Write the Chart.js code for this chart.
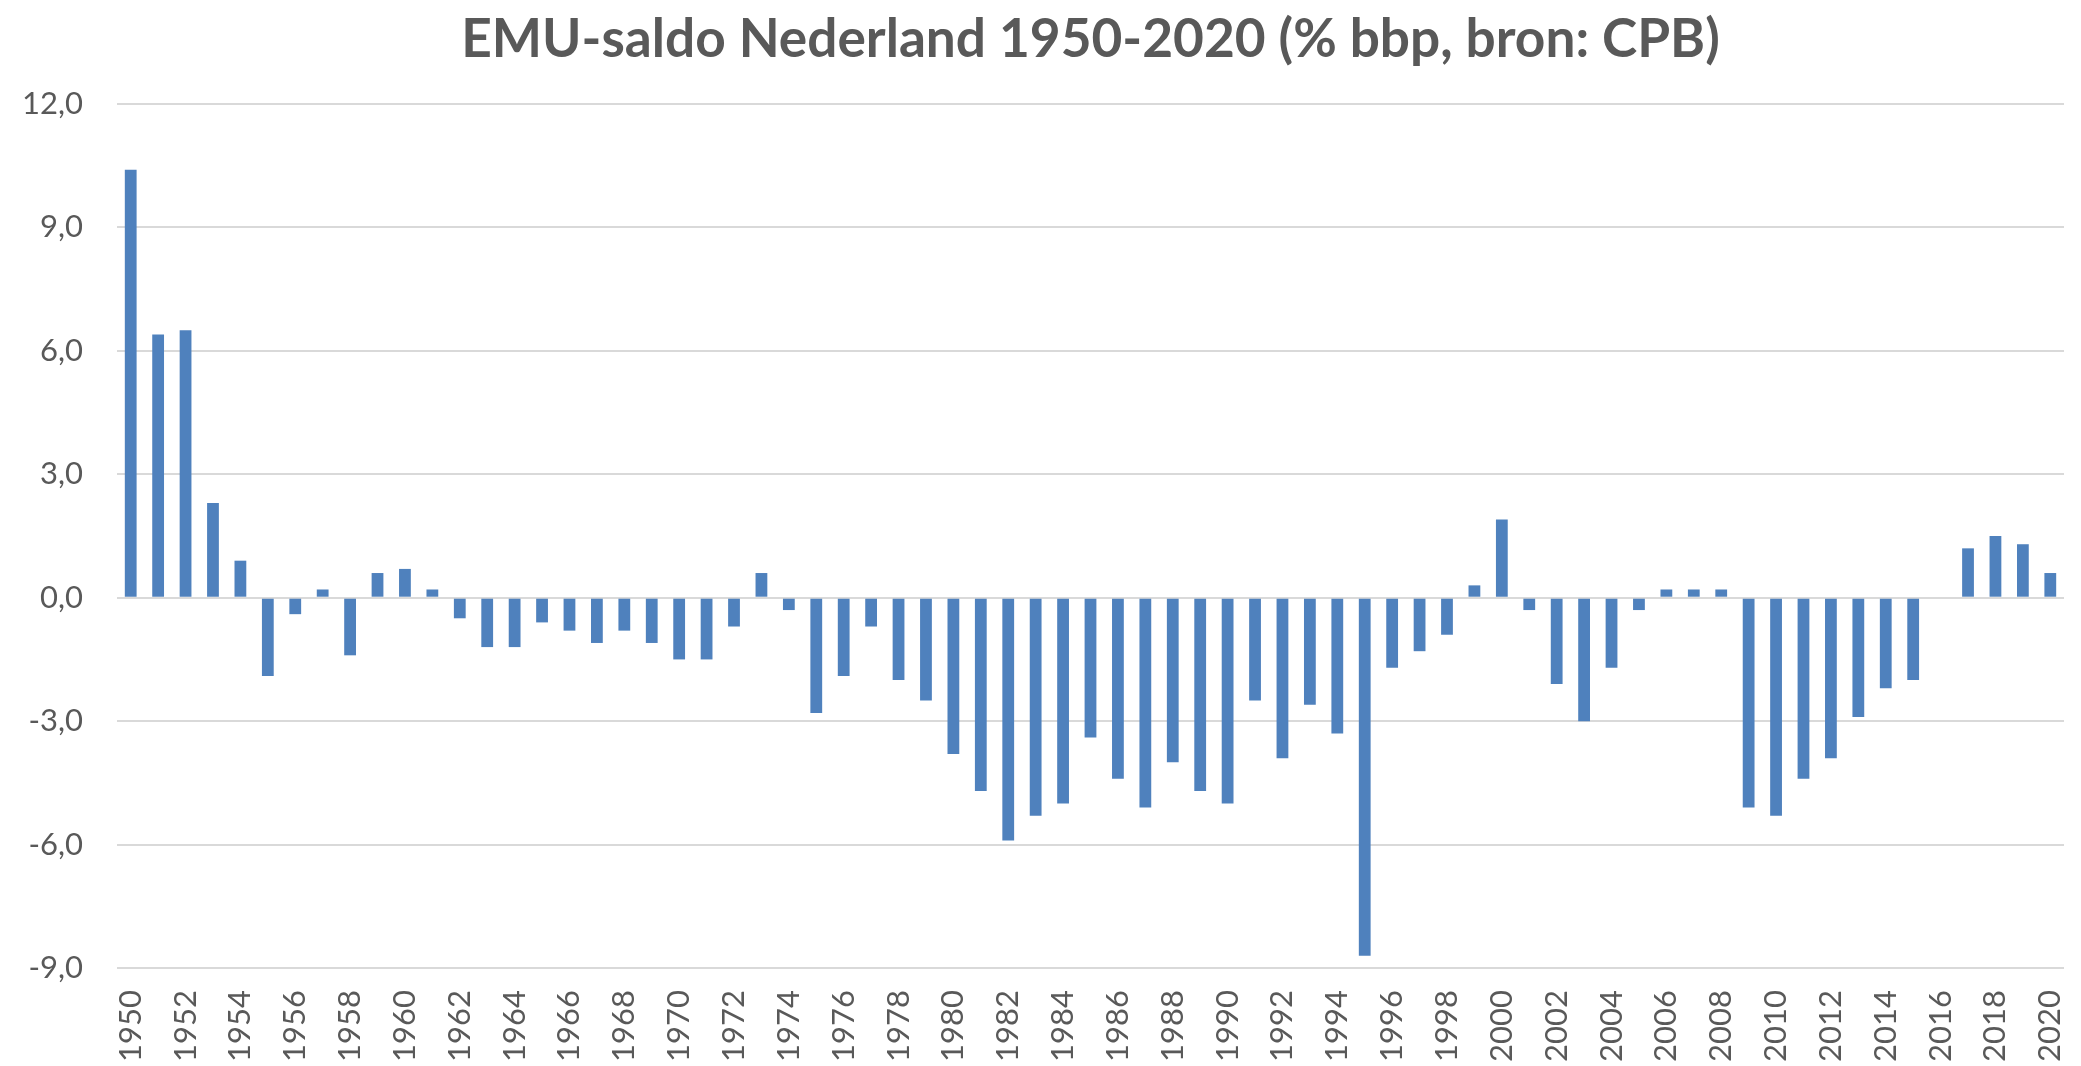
<!DOCTYPE html>
<html>
<head>
<meta charset="utf-8">
<script src="https://cdn.jsdelivr.net/npm/chart.js@4.4.1/dist/chart.umd.min.js"></script>
<style>
html,body{margin:0;padding:0;background:#ffffff;}
#wrap{width:2081px;height:1066px;}
canvas{display:block;}
</style>
</head>
<body>
<div id="wrap"><canvas id="c" width="2081" height="1066"></canvas></div>
<script>
const titleText = 'EMU-saldo Nederland 1950-2020 (% bbp, bron: CPB)';

const years = ['1950','1951','1952','1953','1954','1955','1956','1957','1958','1959',
  '1960','1961','1962','1963','1964','1965','1966','1967','1968','1969',
  '1970','1971','1972','1973','1974','1975','1976','1977','1978','1979',
  '1980','1981','1982','1983','1984','1985','1986','1987','1988','1989',
  '1990','1991','1992','1993','1994','1995','1996','1997','1998','1999',
  '2000','2001','2002','2003','2004','2005','2006','2007','2008','2009',
  '2010','2011','2012','2013','2014','2015','2016','2017','2018','2019','2020'];

const saldo = [10.4, 6.4, 6.5, 2.3, 0.9, -1.9, -0.4, 0.2, -1.4, 0.6,
  0.7, 0.2, -0.5, -1.2, -1.2, -0.6, -0.8, -1.1, -0.8, -1.1,
  -1.5, -1.5, -0.7, 0.6, -0.3, -2.8, -1.9, -0.7, -2.0, -2.5,
  -3.8, -4.7, -5.9, -5.3, -5.0, -3.4, -4.4, -5.1, -4.0, -4.7,
  -5.0, -2.5, -3.9, -2.6, -3.3, -8.7, -1.7, -1.3, -0.9, 0.3,
  1.9, -0.3, -2.1, -3.0, -1.7, -0.3, 0.2, 0.2, 0.2, -5.1,
  -5.3, -4.4, -3.9, -2.9, -2.2, -2.0, 0.0, 1.2, 1.5, 1.3, 0.6];

const xTickLabels = ['1950','1952','1954','1956','1958','1960','1962','1964','1966','1968',
  '1970','1972','1974','1976','1978','1980','1982','1984','1986','1988',
  '1990','1992','1994','1996','1998','2000','2002','2004','2006','2008',
  '2010','2012','2014','2016','2018','2020'];

const yTickValues = [-9, -6, -3, 0, 3, 6, 9, 12];

function fitSize(text, weight, family, target) {
  const c = document.createElement('canvas').getContext('2d');
  c.font = weight + ' 100px ' + family;
  const w = c.measureText(text).width;
  return Math.round(1000 * target / w) / 10;
}

const FAMILY = 'Lato, "Open Sans", sans-serif';
const titleSize = fitSize(titleText, 'bold', FAMILY, 1258);
const tickSize = fitSize('1950', 'normal', FAMILY, 72);
const titleLH = 1.2;
const titlePadTop = 8;
const titlePadBottom = 104 - titlePadTop - titleSize * titleLH;

const ctx = document.getElementById('c').getContext('2d');
new Chart(ctx, {
  type: 'bar',
  data: {
    labels: years,
    datasets: [{
      data: saldo,
      backgroundColor: '#4F81BD',
      borderWidth: 0,
      barPercentage: 0.43,
      categoryPercentage: 1.0
    }]
  },
  options: {
    responsive: false,
    animation: false,
    devicePixelRatio: 1,
    layout: { padding: { left: 0, right: 17, top: 0, bottom: 0 } },
    plugins: {
      legend: { display: false },
      tooltip: { enabled: false },
      title: {
        display: true,
        text: titleText,
        fullSize: false,
        color: '#595959',
        font: { family: FAMILY, weight: 'bold', size: titleSize, lineHeight: titleLH },
        padding: { top: titlePadTop, bottom: titlePadBottom }
      }
    },
    scales: {
      x: {
        grid: { display: false, drawTicks: false },
        border: { display: false },
        ticks: {
          autoSkip: false,
          minRotation: 90,
          maxRotation: 90,
          padding: 22,
          color: '#595959',
          font: { family: FAMILY, size: tickSize },
          callback: function (v) {
            const l = this.getLabelForValue(v);
            return xTickLabels.includes(l) ? l : '';
          }
        },
        afterFit: function (s) { s.height = 98; s.paddingLeft = 0; s.paddingRight = 0; }
      },
      y: {
        min: -9,
        max: 12,
        grid: { color: '#D9D9D9', lineWidth: 2, drawTicks: false },
        border: { display: false },
        afterBuildTicks: function (s) { s.ticks = yTickValues.map(v => ({ value: v })); },
        ticks: {
          padding: 34,
          color: '#595959',
          font: { family: FAMILY, size: tickSize },
          callback: function (v) { return Number(v).toFixed(1).replace('.', ','); }
        },
        afterFit: function (s) { s.width = 117; s.paddingTop = 0; s.paddingBottom = 0; }
      }
    }
  }
});
</script>
</body>
</html>
